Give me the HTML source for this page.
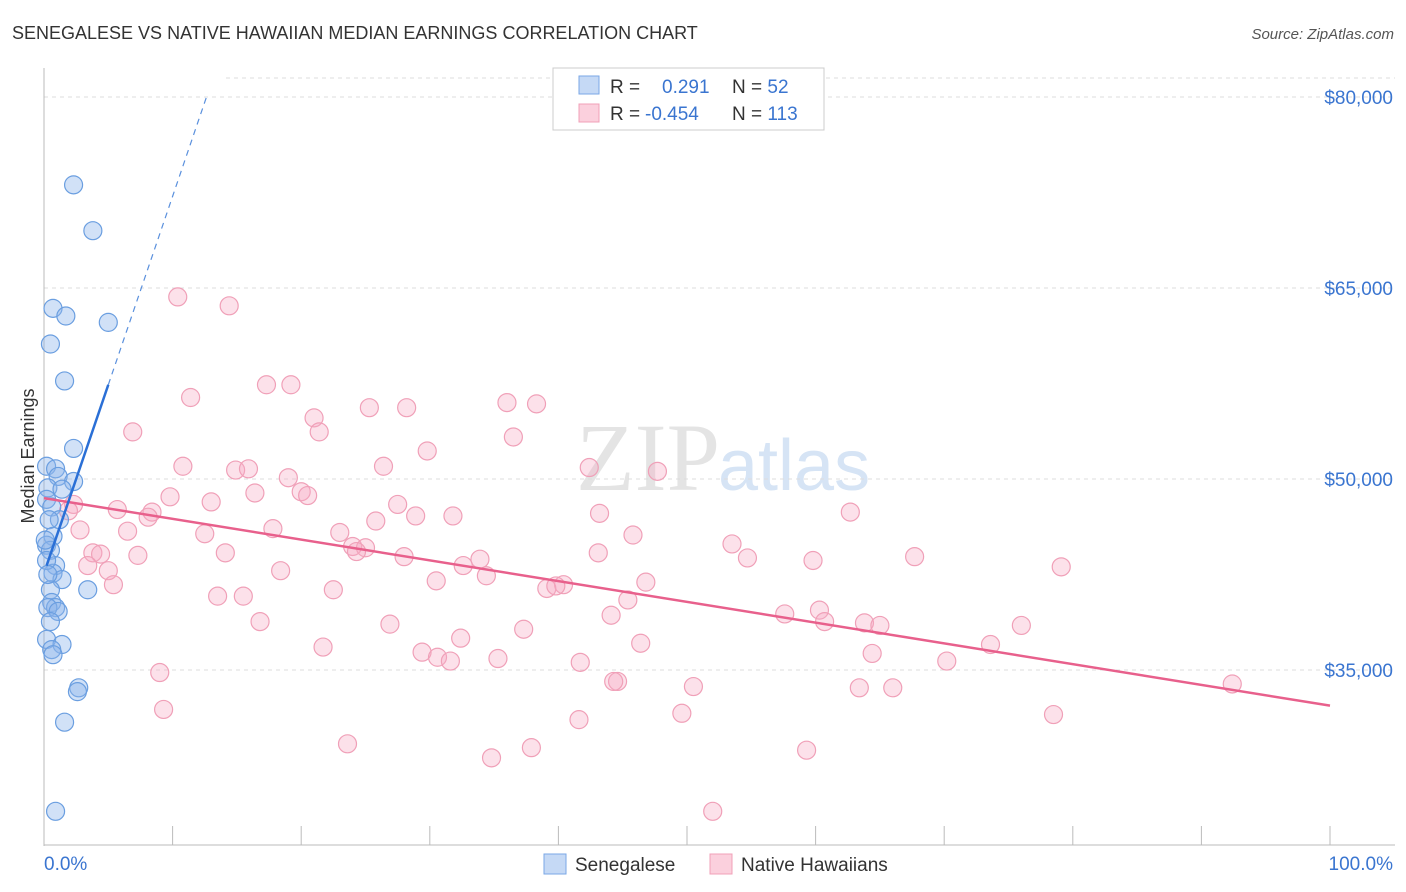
<!DOCTYPE html>
<html><head><meta charset="utf-8"><style>
body{margin:0;background:#fff;font-family:"Liberation Sans",sans-serif;}
svg{display:block}
</style></head><body>
<svg id="c" width="1406" height="892" xmlns="http://www.w3.org/2000/svg">
<text x="12" y="39" font-size="18" fill="#333">SENEGALESE VS NATIVE HAWAIIAN MEDIAN EARNINGS CORRELATION CHART</text>
<text x="1394" y="39" font-size="15" fill="#555" text-anchor="end" font-style="italic">Source: ZipAtlas.com</text>
<text x="720" y="490" font-size="96" fill="#e4e4e4" text-anchor="end" font-family="Liberation Serif">ZIP</text>
<text x="718" y="490" font-size="72" fill="#d6e4f5">atlas</text>
<text transform="translate(34,456) rotate(-90)" font-size="18" fill="#333" text-anchor="middle">Median Earnings</text>
<g id="grid"></g><g id="axes"></g><g id="pts"></g><g id="trend"></g>
<g>
<rect x="553" y="68" width="271" height="62" fill="#fff" stroke="#ccc"/>
<rect x="579" y="76" width="20" height="18" fill="#c5d9f5" stroke="#7aa7e6"/>
<rect x="579" y="104" width="20" height="18" fill="#fbd0dd" stroke="#f0a0b8"/>
<text x="610" y="93" font-size="19" fill="#333">R = <tspan fill="#3a75d0" x="662">0.291</tspan><tspan x="732" fill="#333">N = </tspan><tspan fill="#3a75d0">52</tspan></text>
<text x="610" y="120" font-size="19" fill="#333">R = <tspan fill="#3a75d0" x="645">-0.454</tspan><tspan x="732" fill="#333">N = </tspan><tspan fill="#3a75d0">113</tspan></text>
</g>
<g>
<rect x="544" y="854" width="22" height="20" fill="#c5d9f5" stroke="#7aa7e6"/>
<text x="575" y="871" font-size="19" fill="#333">Senegalese</text>
<rect x="710" y="854" width="22" height="20" fill="#fbd0dd" stroke="#f0a0b8"/>
<text x="741" y="871" font-size="19" fill="#333">Native Hawaiians</text>
</g>
<text x="44" y="870" font-size="19" fill="#3a75d0">0.0%</text>
<text x="1393" y="870" font-size="19" fill="#3a75d0" text-anchor="end">100.0%</text>
</svg>
<script>
const yTicks=[80000,65000,50000,35000];
const yTickLabels=["$80,000","$65,000","$50,000","$35,000"];
const blueX=[2.3,3.8,0.7,1.7,5.0,0.5,1.6,2.3,0.2,0.9,1.1,2.3,0.3,1.4,0.2,0.6,1.2,0.4,0.7,0.2,0.5,0.9,0.7,1.4,0.5,3.4,0.6,0.9,0.3,1.1,0.5,0.2,1.4,0.6,0.7,2.7,2.6,1.6,0.9,0.1,0.2,0.3];
const blueY=[73.1,69.5,63.4,62.8,62.3,60.6,57.7,52.4,51.0,50.8,50.2,49.8,49.3,49.2,48.4,47.8,46.8,46.8,45.5,44.8,44.4,43.2,42.6,42.1,41.3,41.3,40.3,39.9,39.9,39.6,38.8,37.4,37.0,36.6,36.2,33.6,33.3,30.9,23.9,45.2,43.6,42.5];
const pinkX=[10.4,14.4,17.3,19.2,11.4,21.0,25.3,28.2,36.0,38.3,6.9,21.4,36.5,29.8,10.8,14.9,15.9,26.4,42.4,47.7,19.0,20.0,20.5,9.8,16.4,13.0,5.7,8.4,27.5,2.3,1.9,8.1,28.9,31.8,43.2,62.7,25.8,2.8,6.5,12.5,17.8,23.0,45.8,53.5,24.0,25.0,24.3,3.8,4.4,7.3,14.1,28.0,43.1,33.9,54.7,59.8,67.7,3.4,5.0,18.4,32.6,34.4,79.1,30.5,5.4,46.8,40.4,39.1,39.8,22.5,13.5,15.5,45.4,44.1,57.6,60.3,60.7,16.8,26.9,37.3,63.8,65.0,76.0,32.4,46.4,73.6,21.7,29.4,30.6,31.6,35.3,41.7,64.4,70.2,9.0,44.6,44.3,50.5,63.4,66.0,92.4,9.3,49.6,41.6,78.5,23.6,37.9,59.3,34.8,52.0];
const pinkY=[64.3,63.6,57.4,57.4,56.4,54.8,55.6,55.6,56.0,55.9,53.7,53.7,53.3,52.2,51.0,50.7,50.8,51.0,50.9,50.6,50.1,49.0,48.7,48.6,48.9,48.2,47.6,47.4,48.0,48.0,47.5,47.0,47.1,47.1,47.3,47.4,46.7,46.0,45.9,45.7,46.1,45.8,45.6,44.9,44.7,44.6,44.3,44.2,44.1,44.0,44.2,43.9,44.2,43.7,43.8,43.6,43.9,43.2,42.8,42.8,43.2,42.4,43.1,42.0,41.7,41.9,41.7,41.4,41.6,41.3,40.8,40.8,40.5,39.3,39.4,39.7,38.8,38.8,38.6,38.2,38.7,38.5,38.5,37.5,37.1,37.0,36.8,36.4,36.0,35.7,35.9,35.6,36.3,35.7,34.8,34.1,34.1,33.7,33.6,33.6,33.9,31.9,31.6,31.1,31.5,29.2,28.9,28.7,28.1,23.9];
const blueTrend=[42.6,2.96]; // intercept (k$), slope per %
const pinkTrend=[48.5,-0.163];
const NS="http://www.w3.org/2000/svg";
const X=p=>44+p*12.86;
const Y=k=>97+(80-k)*12.733;
function mk(t,a,parent){const e=document.createElementNS(NS,t);for(const k in a)e.setAttribute(k,a[k]);document.getElementById(parent).appendChild(e);return e;}
yTicks.forEach((v,i)=>{
 const l=mk('line',{x1:44,x2:1395,y1:Y(v/1000),y2:Y(v/1000),stroke:'#ddd','stroke-dasharray':'4,4'},'grid');
 
 
 const t=mk('text',{x:1393,y:Y(v/1000)+7,'font-size':19,fill:'#3a75d0','text-anchor':'end'},'grid');
 t.textContent=yTickLabels[i];
 
 
});
const tl=mk('line',{x1:226,x2:1395,y1:78,y2:78,stroke:'#ddd','stroke-dasharray':'4,4'},'grid');


const ya=mk('line',{x1:44,x2:44,y1:68,y2:846,stroke:'#bbb'},'axes');


const xa=mk('line',{x1:44,x2:1395,y1:845,y2:845,stroke:'#bbb'},'axes');


for(let i=0;i<=10;i++){const t=mk('line',{x1:X(i*10),x2:X(i*10),y1:826,y2:845,stroke:'#bbb'},'axes');
 
 }
pinkX.forEach((x,i)=>{const c=mk('circle',{cx:X(x),cy:Y(pinkY[i]),r:9,fill:'rgba(246,170,195,0.35)',stroke:'#f0a0b8','stroke-width':1.2},'pts');
 
 });
blueX.forEach((x,i)=>{const c=mk('circle',{cx:X(x),cy:Y(blueY[i]),r:9,fill:'rgba(140,180,235,0.4)',stroke:'#6a9ee0','stroke-width':1.2},'pts');
 
 });
const pl=mk('line',{x1:X(0),y1:Y(pinkTrend[0]),x2:X(100),y2:Y(pinkTrend[0]+pinkTrend[1]*100),stroke:'#e8608c','stroke-width':2.5},'trend');


const bs=mk('line',{x1:X(0.2),y1:Y(blueTrend[0]+blueTrend[1]*0.2),x2:X(5),y2:Y(blueTrend[0]+blueTrend[1]*5),stroke:'#2a6fd6','stroke-width':2.5},'trend');


const xEnd=(80-blueTrend[0])/blueTrend[1];
const bd=mk('line',{x1:X(5),y1:Y(blueTrend[0]+blueTrend[1]*5),x2:X(xEnd),y2:Y(80),stroke:'#5a90dd','stroke-width':1.2,'stroke-dasharray':'6,5'},'trend');


</script>
</body></html>
